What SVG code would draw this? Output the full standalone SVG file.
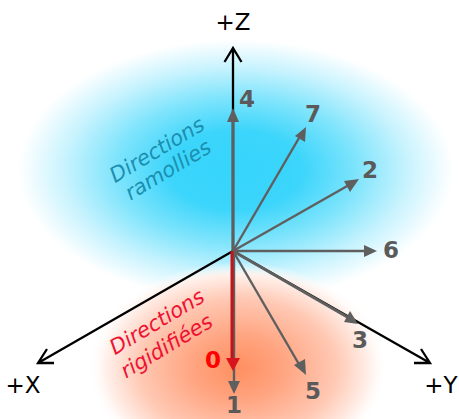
<svg xmlns="http://www.w3.org/2000/svg" width="459" height="419" viewBox="0 0 459 419">
<style>
.axis{stroke:#000;stroke-width:2.3;fill:none}
.dir{stroke:#5f5f5f;stroke-width:2.4;fill:none}
.head{fill:#5f5f5f}
.ax{font:23px "DejaVu Sans",sans-serif;fill:#000;text-anchor:middle}
.num{font:bold 23px "DejaVu Sans",sans-serif;fill:#5a5a5a;text-anchor:middle}
.lab{font:21px "DejaVu Sans",sans-serif;font-style:oblique;text-anchor:middle}
</style>
<defs>
<radialGradient id="blue"><stop offset="0" stop-color="#36d4fb"/><stop offset=".3" stop-color="#3cd5fb"/><stop offset=".55" stop-color="#7fe4fc"/><stop offset=".78" stop-color="#c8f3fe"/><stop offset=".97" stop-color="#fbfeff"/><stop offset="1" stop-color="#fff" stop-opacity="0"/></radialGradient>
<radialGradient id="orange"><stop offset="0" stop-color="#ff8f60"/><stop offset=".3" stop-color="#ffa480"/><stop offset=".65" stop-color="#ffc8b3"/><stop offset=".88" stop-color="#fff0ea"/><stop offset="1" stop-color="#fff" stop-opacity="0"/></radialGradient>
</defs>
<rect width="459" height="419" fill="#fff"/>
<g id="zones">
<ellipse cx="236" cy="170" rx="220" ry="132" fill="url(#blue)"/>
<ellipse cx="238" cy="368" rx="150" ry="106" fill="url(#orange)"/>
</g>
<g id="connectors">
<path class="axis" d="M233 251V48M224.500 62L233 48L241.500 62"/>
<path class="axis" d="M233 251L38 363M54 363H38L47 349"/>
<path class="axis" d="M233 251L430 363M414 363H430L421 349"/>
<path class="dir" d="M233 251V115" style="stroke-width:3"/><polygon class="head" points="233,108 227,122 239,122"/>
<path class="dir" d="M233 251L299 138"/><polygon class="head" points="306,127 295,136 305,142"/>
<path class="dir" d="M233 251L349 185"/><polygon class="head" points="359,179 344,181 350,192"/>
<path class="dir" d="M233 251H368"/><polygon class="head" points="377,251 364,245 364,257"/>
<path class="dir" d="M233 251L349 318" style="stroke-width:3"/><polygon class="head" points="358,324 350,311 344,322"/>
<path class="dir" d="M233 251L300 366"/><polygon class="head" points="306,375 305,359 294,365"/>
<path class="dir" d="M234 251V385"/><polygon class="head" points="234,394 228,381 240,381"/>
<path d="M232 251V362" stroke="#c3141c" stroke-width="3" fill="none"/><polygon fill="#d8141c" points="233,371 226,358 240,358"/>
</g>
<g id="n-z"><text class="ax" x="233" y="30">+Z</text></g>
<g id="n-x"><text class="ax" x="23" y="393">+X</text></g>
<g id="n-y"><text class="ax" x="441" y="393">+Y</text></g>
<g id="n-4"><text class="num" x="247" y="107">4</text></g>
<g id="n-7"><text class="num" x="313" y="122">7</text></g>
<g id="n-2"><text class="num" x="370" y="178">2</text></g>
<g id="n-6"><text class="num" x="391" y="258">6</text></g>
<g id="n-3"><text class="num" x="360" y="348">3</text></g>
<g id="n-5"><text class="num" x="313" y="399">5</text></g>
<g id="n-1"><text class="num" x="234" y="413">1</text></g>
<g id="n-0"><text x="213" y="368" style="font:bold 23px 'DejaVu Sans',sans-serif;fill:#f00;text-anchor:middle">0</text></g>
<g id="soft"><text class="lab" transform="translate(157 150) rotate(-31)" y="7" fill="#1b8fb0">Directions</text><text class="lab" transform="translate(168 170) rotate(-31)" y="7" fill="#1b8fb0">ramollies</text></g>
<g id="hard"><text class="lab" transform="translate(157 322) rotate(-31)" y="7" fill="#ee1133">Directions</text><text class="lab" transform="translate(167 347) rotate(-31)" y="6" fill="#ee1133">rigidifiées</text></g>
</svg>
